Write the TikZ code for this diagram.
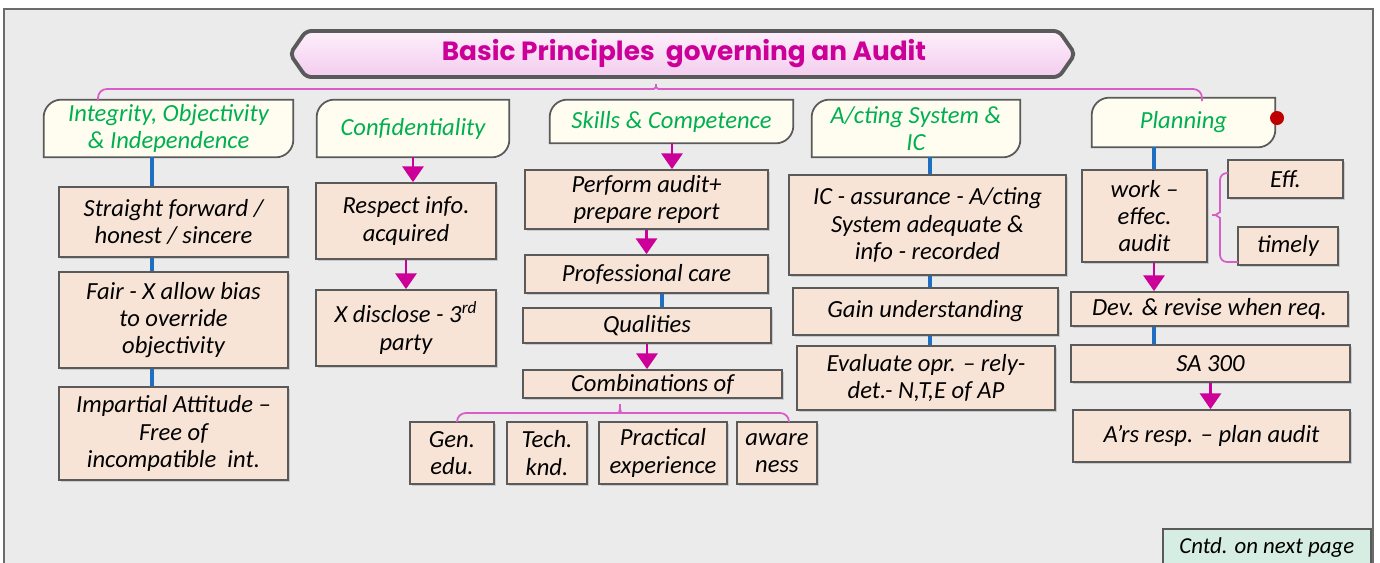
\documentclass[tikz,border=0pt]{standalone}
\usepackage{fontspec}
\setmainfont{Carlito}
\newfontfamily\ttlfont{Poppins}
\usetikzlibrary{arrows.meta,backgrounds,shadows}

\definecolor{pagebg}{HTML}{EBEBEB}
\definecolor{framegray}{HTML}{6B6B6B}
\definecolor{boxfill}{HTML}{F8E4D7}
\definecolor{hdrfill}{HTML}{FFFDF0}
\definecolor{boxline}{HTML}{5A5A5A}
\definecolor{hdrgreen}{HTML}{00B050}
\definecolor{ttlmag}{HTML}{CC0099}
\definecolor{brcpink}{HTML}{D95DC8}
\definecolor{lnblue}{HTML}{1F6FC1}
\definecolor{dotred}{HTML}{C00000}
\definecolor{ttlfill}{HTML}{FCE4F9}
\definecolor{ttlfilldk}{HTML}{F3CDEE}
\definecolor{cntfill}{HTML}{D5EDE2}

% header outline: round top-left and bottom-right corners only
\newcommand{\hdrshape}[1]{%
  \filldraw[hdrbox] (#1.south west) -- ([yshift=-10pt]#1.north west)
    arc (180:90:10pt) -- (#1.north east) -- ([yshift=10pt]#1.south east)
    arc (0:-90:10pt) -- cycle;}

\begin{document}
\begin{tikzpicture}[x=0.02cm, y=-0.02cm,
  every node/.style={font=\fontsize{14}{15.5}\selectfont\itshape, align=center, inner sep=2pt},
  box/.style={draw=boxline, fill=boxfill, line width=1pt,
    drop shadow={opacity=0.3, shadow xshift=1.2pt, shadow yshift=-1.2pt}},
  hdr/.style={text=hdrgreen},
  hdrbox/.style={draw=boxline, fill=hdrfill, line width=1pt},
  arr/.style={draw=ttlmag, line width=1.6pt, -{Triangle[width=12pt,length=9pt]}, color=ttlmag},
  lnk/.style={draw=lnblue, line width=2pt},
  brc/.style={draw=brcpink, line width=1pt, rounded corners=5pt}]
  \useasboundingbox (0,0) rectangle (1380,562);
  \begin{scope}[on background layer]
    \fill[white] (0,0) rectangle (1380,562);
    \draw[draw=framegray, fill=pagebg, line width=1.2pt] (4,9) rectangle (1373,580);
  \end{scope}

  % title
  \draw[draw=boxline, top color=ttlfill!60!white, bottom color=ttlfilldk, line width=2.2pt, rounded corners=3pt]
    (290,54) -- (306,31) -- (1059,31) -- (1075,54) -- (1059,77) -- (306,77) -- cycle;
  \node[font=\ttlfont\bfseries\fontsize{15}{18}\selectfont, text=ttlmag] (title) at (684,54) {Basic Principles\ \ governing an Audit};
  \draw[brc] (98,101) |- (645,89) .. controls (653,89) and (656,87) .. (656,79)
    .. controls (656,87) and (659,89) .. (667,89) -| (1202,101);

  % headers
  \node[hdr, minimum width=4.98cm, minimum height=1.14cm] (h1) at (168.5,128.5) {Integrity, Objectivity\\\& Independence};
  \node[hdr, minimum width=3.84cm, minimum height=1.14cm] (h2) at (413,128.5) {Confidentiality};
  \node[hdr, minimum width=4.86cm, minimum height=0.86cm] (h3) at (671.5,121.5) {Skills \& Competence};
  \node[hdr, minimum width=4.16cm, minimum height=1.14cm] (h4) at (916,128.5) {A/cting System \&\\IC};
  \node[hdr, minimum width=3.66cm, minimum height=0.98cm] (h5) at (1183.5,122.5) {Planning};
  \node[circle, fill=dotred, minimum size=0.28cm, inner sep=0] (dot) at (1277,118) {};

  % column 1
  \node[box, minimum width=4.58cm, minimum height=1.4cm] (s1) at (173.5,222) {Straight forward /\\honest / sincere};
  \node[box, minimum width=4.58cm, minimum height=1.92cm] (s2) at (173.5,320) {Fair - X allow bias\\to override\\objectivity};
  \node[box, minimum width=4.58cm, minimum height=1.86cm] (s3) at (173.5,433.5) {Impartial Attitude –\\Free of\\incompatible\ \ int.};

  % column 2
  \node[box, minimum width=3.6cm, minimum height=1.52cm] (c1) at (406,221) {Respect info.\\acquired};
  \node[box, minimum width=3.6cm, minimum height=1.52cm] (c2) at (406,328) {X disclose - 3\textsuperscript{rd}\\party};

  % column 3
  \node[box, minimum width=4.86cm, minimum height=1.18cm] (k1) at (646.5,199.5) {Perform audit+\\prepare report};
  \node[box, minimum width=4.86cm, minimum height=0.76cm] (k2) at (646.5,274) {Professional care};
  \node[box, minimum width=4.96cm, minimum height=0.7cm] (k3) at (647,325.5) {Qualities};
  \node[box, minimum width=5.18cm, minimum height=0.56cm] (k4) at (652.5,384) {Combinations of};
  \node[box, minimum width=1.68cm, minimum height=1.24cm] (g1) at (452,453) {Gen.\\edu.};
  \node[box, minimum width=1.6cm, minimum height=1.24cm] (g2) at (547,453) {Tech.\\knd.};
  \node[box, minimum width=2.56cm, minimum height=1.24cm] (g3) at (663,453) {Practical\\experience};
  \node[box, minimum width=1.6cm, minimum height=1.24cm] (g4) at (777,453) {aware\\ness};
  \draw[brc] (457,422) |- (611,413) .. controls (618,413) and (620,411) .. (620,399)
    .. controls (620,411) and (622,413) .. (629,413) -| (789,422);

  % column 4
  \node[box, minimum width=5.54cm, minimum height=2.0cm] (a1) at (927.5,225) {IC - assurance - A/cting\\System adequate \&\\info - recorded};
  \node[box, minimum width=5.3cm, minimum height=0.94cm] (a2) at (925.5,311.5) {Gain understanding};
  \node[box, minimum width=5.16cm, minimum height=1.28cm] (a3) at (926,378) {Evaluate opr. – rely-\\det.- N,T,E of AP};

  % column 5
  \node[box, minimum width=2.5cm, minimum height=1.84cm] (p1) at (1144.5,216) {work –\\effec.\\audit};
  \node[box, minimum width=2.3cm, minimum height=0.76cm] (e1) at (1285.5,179) {Eff.};
  \node[box, minimum width=2.0cm, minimum height=0.76cm] (e2) at (1288,246) {timely};
  \node[box, minimum width=5.54cm, minimum height=0.68cm] (p2) at (1209.5,309) {Dev. \& revise when req.};
  \node[box, minimum width=5.58cm, minimum height=0.74cm] (p3) at (1210.5,363.5) {SA 300};
  \node[box, minimum width=5.54cm, minimum height=1.04cm] (p4) at (1211.5,436) {A’rs resp. – plan audit};
  \draw[brc, rounded corners=4pt] (1228,173) -| (1220,205) .. controls (1220,212) and (1216,215) .. (1208,215)
    .. controls (1216,215) and (1220,218) .. (1220,225) |- (1238,262);

  \node[draw=boxline, fill=cntfill, line width=1pt, minimum width=4.16cm, minimum height=0.76cm, anchor=north west,
    font=\fontsize{13}{15}\selectfont\itshape] (cntd) at (1162,528) {Cntd. on next page};

  \begin{scope}[on background layer]
    \hdrshape{h1} \hdrshape{h2} \hdrshape{h3} \hdrshape{h4} \hdrshape{h5}
  \end{scope}

  % connectors
  \coordinate (x1) at (152,0);
  \coordinate (x2) at (413,0);
  \coordinate (x3) at (672,0);
  \coordinate (x4) at (662,0);
  \coordinate (x5) at (930,0);
  \coordinate (x6) at (1154,0);
  \draw[lnk] (h1.south -| x1) -- (s1.north -| x1);
  \draw[lnk] (s1.south -| x1) -- (s2.north -| x1);
  \draw[lnk] (s2.south -| x1) -- (s3.north -| x1);
  \draw[arr] (h2.south -| x2) -- (c1.north -| x2);
  \draw[arr] (c1.south) -- (c2.north);
  \draw[arr] (h3.south -| x3) -- (k1.north -| x3);
  \draw[arr] (k1.south) -- (k2.north);
  \draw[lnk] (k2.south -| x4) -- (k3.north -| x4);
  \draw[arr] (k3.south) -- (k3.south |- k4.north);
  \draw[lnk] (h4.south -| x5) -- (a1.north -| x5);
  \draw[lnk] (a1.south -| x5) -- (a2.north -| x5);
  \draw[lnk] (a2.south -| x5) -- (a3.north -| x5);
  \draw[lnk] (h5.south -| x6) -- (p1.north -| x6);
  \draw[arr] (p1.south -| x6) -- (p2.north -| x6);
  \draw[lnk] (p2.south -| x6) -- (p3.north -| x6);
  \draw[arr] (p3.south) -- (p3.south |- p4.north);
\end{tikzpicture}
\end{document}
